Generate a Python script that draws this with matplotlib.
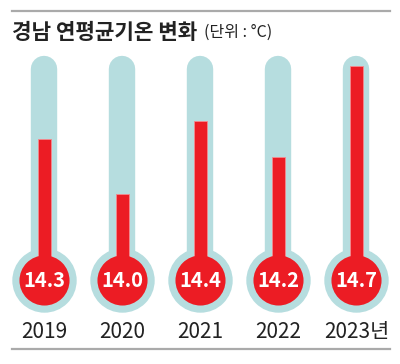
import matplotlib
matplotlib.use('Agg')
import matplotlib.pyplot as plt
from matplotlib.lines import Line2D

plt.rcParams['font.family'] = ['Noto Sans CJK KR', 'DejaVu Sans']

years = ['2019', '2020', '2021', '2022', '2023년']
temps = [14.3, 14.0, 14.4, 14.2, 14.7]
title = '경남 연평균기온 변화'
unit = '(단위 : °C)'

tube_color = '#b6dddf'
red = '#ec1c24'
bulb_t = 13.53     # temperature level where the bulb sits
tube_top = 14.68

fig = plt.figure(figsize=(4, 3.64), dpi=100)
ax = fig.add_axes([0, 0, 1, 1])
ax.set_xlim(-0.5705, 4.5577)
ax.set_ylim(13.0726, 15.0584)
ax.axis('off')

x = range(len(years))
for i in x:
    ax.plot([i, i], [bulb_t, tube_top], color=tube_color, lw=19,
            solid_capstyle='round', zorder=1)
ax.scatter(x, [bulb_t] * len(years), s=2150, color=tube_color, zorder=1, linewidths=0)
ax.bar(x, [t - bulb_t for t in temps], bottom=bulb_t, width=0.155,
       color=red, edgecolor='#f58a8f', linewidth=0.6, zorder=2)
ax.scatter(x, [bulb_t] * len(years), s=1300, color=red, zorder=3, linewidths=0)

for i, t in zip(x, temps):
    ax.text(i, bulb_t, f'{t:.1f}', color='white', fontsize=14.5, fontweight='bold',
            ha='center', va='center', zorder=4)
for i, y in zip(x, years):
    ax.text(i, 0.088, y, transform=ax.get_xaxis_transform(), fontsize=15,
            ha='center', va='center', color='#222222')

fig.text(0.03, 0.911, title, fontsize=15.3, fontweight='bold', va='center', color='#222222')
fig.text(0.51, 0.911, unit, fontsize=11.5, va='center', color='#222222')

fig.add_artist(Line2D([0.03, 0.975], [0.971, 0.971], color='#aaaaaa', lw=1.6))
fig.add_artist(Line2D([0.03, 0.975], [0.041, 0.041], color='#aaaaaa', lw=1.6))

plt.savefig('out.png', dpi=100)
